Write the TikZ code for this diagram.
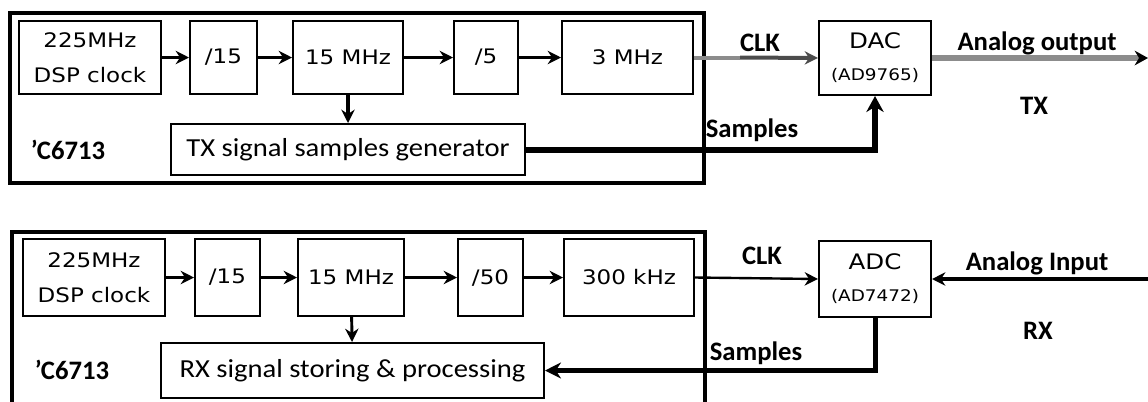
\documentclass[tikz,border=0pt]{standalone}
\usepackage{fontspec}
\setmainfont{Carlito}
\newfontfamily\boxfont[FakeStretch=1.15]{DejaVu Sans}
\newfontfamily\genfont[FakeStretch=1.1]{Carlito}
\usetikzlibrary{arrows.meta}
\definecolor{lightwire}{gray}{0.55}
\definecolor{darkwire}{gray}{0.3}
\tikzset{
  blk/.style={draw,line width=1.5pt,inner sep=0pt,align=center,font=\boxfont\fontsize{15}{26}\selectfont},
  genblk/.style={draw,line width=1.5pt,inner sep=0pt,font=\genfont\fontsize{19.5}{20}\selectfont},
  lbl/.style={inner sep=0pt,font=\bfseries\fontsize{20}{20}\selectfont},
  frame/.style={line width=3pt},
  wire/.style={->,line width=2.6pt},
}
\newcommand\partno[1]{{\fontsize{12}{12}\selectfont(#1)}}

\begin{document}
\begin{tikzpicture}[x=0.75pt,y=-0.75pt,>={Stealth[length=10pt,width=10pt]}]
\useasboundingbox (0,0) rectangle (1148,401);
\clip (0,0) rectangle (1148,401);
\draw[frame] (10,13) rectangle (704,183);
\draw[frame] (12,232) rectangle (705,420);
\node[blk,minimum width=106.5pt,minimum height=54.75pt] (clktx) at (90,57.5) {225MHz\\DSP clock};
\node[blk,minimum width=50.25pt,minimum height=54.75pt] (divtxa) at (223.5,57.5) {/15};
\node[blk,minimum width=82.5pt,minimum height=54.75pt] (ftxa) at (348,57.5) {15 MHz};
\node[blk,minimum width=48pt,minimum height=54.75pt] (divtxb) at (486,57.5) {/5};
\node[blk,minimum width=98.25pt,minimum height=54.75pt] (ftxb) at (627.5,57.5) {3 MHz};
\node[genblk,minimum width=265.5pt,minimum height=38.25pt] (txgen) at (348,149.5) {TX signal samples generator};
\node[blk,font=\boxfont\fontsize{16}{24}\selectfont,minimum width=84pt,minimum height=55.5pt] (dac) at (875,58) {DAC\\\partno{AD9765}};
\node[blk,minimum width=106.5pt,minimum height=57.75pt] (clkrx) at (94,277.5) {225MHz\\DSP clock};
\node[blk,minimum width=48.75pt,minimum height=57.75pt] (divrxa) at (227.5,277.5) {/15};
\node[blk,minimum width=79.5pt,minimum height=57.75pt] (frxa) at (351,277.5) {15 MHz};
\node[blk,minimum width=48.75pt,minimum height=57.75pt] (divrxb) at (490.5,277.5) {/50};
\node[blk,minimum width=97.5pt,minimum height=57.75pt] (frxb) at (629,277.5) {300 kHz};
\node[genblk,minimum width=287.25pt,minimum height=41.25pt] (rxproc) at (352.5,370.5) {RX signal storing \& processing};
\node[blk,font=\boxfont\fontsize{16}{24}\selectfont,minimum width=84pt,minimum height=57pt] (adc) at (875,279) {ADC\\\partno{AD7472}};
\node[lbl] (dsptx) at (68,150) {'C6713};
\node[lbl] (dsprx) at (72,370) {'C6713};
\node[lbl] (clklbltx) at (760,43) {CLK};
\node[lbl] (smplbltx) at (752,130) {Samples};
\node[lbl] (aoutlbl) at (1037,43) {Analog output};
\node[lbl] (txlbl) at (1034,106) {TX};
\node[lbl] (clklblrx) at (762,256) {CLK};
\node[lbl] (smplblrx) at (756,353) {Samples};
\node[lbl] (ainlbl) at (1037,263) {Analog Input};
\node[lbl] (rxlbl) at (1038,331) {RX};
\coordinate (clkmid) at (740,57.5);
\coordinate (aout) at (1148,58);
\coordinate (ain) at (1150,279);
\draw[wire] (clktx) -- (divtxa);
\draw[wire] (divtxa) -- (ftxa);
\draw[wire] (ftxa) -- (divtxb);
\draw[wire] (divtxb) -- (ftxb);
\draw[wire] (ftxa) -- (txgen);
\draw[line width=3pt,lightwire] (ftxb.east) -- (clkmid);
\draw[->,line width=3pt,darkwire] (clkmid) -- (dac.west);
\draw[-{Stealth[length=10pt,width=11pt,color=black]},line width=4.5pt,lightwire] (dac.east) -- (aout);
\draw[-{Stealth[length=12pt,width=13pt]},line width=4.5pt] (txgen.east) -| (dac.south);
\draw[wire,line width=2.2pt] (clkrx) -- (divrxa);
\draw[wire,line width=2.2pt] (divrxa) -- (frxa);
\draw[wire,line width=2.2pt] (frxa) -- (divrxb);
\draw[wire,line width=2.2pt] (divrxb) -- (frxb);
\draw[wire,line width=2.2pt] (frxa) -- (rxproc);
\draw[->,line width=1.8pt] (frxb.east) -- (adc.west);
\draw[->,line width=3pt] (ain) -- (adc.east);
\draw[-{Stealth[length=12pt,width=12pt]},line width=3.75pt] (adc.south) |- (rxproc.east);
\end{tikzpicture}
\end{document}
